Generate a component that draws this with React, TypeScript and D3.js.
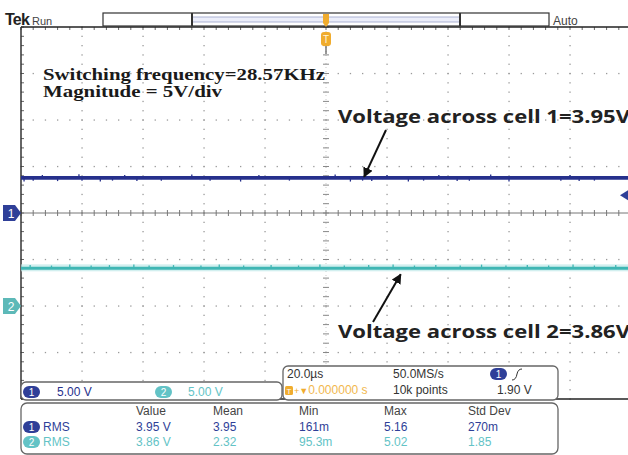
import React from 'react'
import * as d3 from 'd3'

// scope settings
const voltsPerDiv = [5, 5]
const groundDiv = [0, -2] // ground marker position, divisions from centre
const traceLevels = [3.78, 4.05] // volts
const triggerLevel = 1.9

// noise spikes on the traces: [time µs, volts from level]
const ch1Spikes = [
  [-99, -0.4], [-96, -0.3], [-93, 0.3], [-88, -0.35], [-81, 0.4], [-80, -0.3], [-74, -0.4],
  [-70, -0.3], [-66, 0.3], [-62, -0.35], [-54, -0.3], [-44, 0.35], [-38, -0.3], [-28, -0.4],
  [-22, 0.3], [-12, -0.3], [3, 0.35], [8, -0.4], [12, -0.3], [15, -0.35], [20, 0.3], [27, -0.4],
  [32, -0.3], [37, 0.3], [43, -0.35], [47, -0.3], [54, 0.35], [60, -0.4], [77, -0.3], [80, 0.3],
  [83, -0.35], [88, -0.3],
]
const ch2Spikes = [
  [-97, 0.35], [-90, 0.3], [-84, 0.4], [-77, 0.3], [-71, 0.35], [-63, 0.4], [-58, 0.3], [-50, 0.35],
  [-41, 0.3], [-35, 0.4], [-27, 0.3], [-18, 0.35], [-9, 0.3], [-2, 0.4], [6, 0.3], [14, 0.35],
  [22, 0.4], [29, 0.3], [36, 0.35], [44, 0.3], [51, 0.4], [59, 0.3], [66, 0.35], [73, 0.3],
  [81, 0.4], [88, 0.3], [95, 0.35],
]

const chLabels = ['1', '2']
const chScaleText = ['5.00 V', '5.00 V']
const measHeaders = ['Value', 'Mean', 'Min', 'Max', 'Std Dev']
const measType = ['RMS', 'RMS']
const ch1Meas = ['3.95 V', '3.95', '161m', '5.16', '270m']
const ch2Meas = ['3.86 V', '2.32', '95.3m', '5.02', '1.85']
const horizText = ['20.0µs', '50.0MS/s', '1.90 V']
const horizText2 = ['0.000000 s', '10k points']
const noteLines = ['Switching frequency=28.57KHz', 'Magnitude = 5V/div']
const cellLabels = ['Voltage across cell 1=3.95V', 'Voltage across cell 2=3.86V']

const BLUE = '#26308c'
const BLUE_UI = '#2f3f98'
const CYAN = '#3fb6b4'
const CYAN_TXT = '#63c3c6'
const ORANGE = '#f0ac2e'
const UI = 'Liberation Sans, Arial, sans-serif'

export default function App() {
  const W = 628
  const H = 455
  const x = d3.scaleLinear().domain([-100, 100]).range([21, 631])
  const yDiv = d3.scaleLinear().domain([4, -4]).range([27, 399])
  const chY = (c: number, v: number) => yDiv(groundDiv[c] + v / voltsPerDiv[c])

  const majorX = d3.range(-80, 100, 20)
  const majorY = d3.range(-3, 4, 1)
  const minorX = d3.range(-100, 100.01, 4)
  const minorY = d3.range(-4, 4.01, 0.2)

  const dots: JSX.Element[] = []
  majorX.forEach((t) => {
    if (t === 0) return
    minorY.forEach((d, i) => dots.push(<rect key={`vx${t}_${i}`} x={x(t) - 0.6} y={yDiv(d) - 0.6} width={1.3} height={1.3} fill="#9a9a9a" />))
  })
  majorY.forEach((d) => {
    if (d === 0) return
    minorX.forEach((t, i) => dots.push(<rect key={`hy${d}_${i}`} x={x(t) - 0.6} y={yDiv(d) - 0.6} width={1.3} height={1.3} fill="#9a9a9a" />))
  })

  const line = d3.line<number[]>().x((d) => d[0]).y((d) => d[1])
  const trace = (c: number) => line([[x(-100), chY(c, traceLevels[c])], [x(100), chY(c, traceLevels[c])]]) || ''

  const colX = [136, 213, 299, 384, 468]

  const pill = (key: string, px: number, py: number, fill: string, label: string) => (
    <g key={key}>
      <rect x={px} y={py} width={17} height={12} rx={6} fill={fill} />
      <text x={px + 8.5} y={py + 10} textAnchor="middle" fontSize={10} fill="#fff" fontFamily={UI}>{label}</text>
    </g>
  )

  const a1Tip = [x(12.5), chY(0, traceLevels[0]) + 1]
  const a2Tip = [x(24.5), chY(1, traceLevels[1]) + 6]

  return (
    <svg width={W} height={H} style={{ position: 'absolute', left: 0, top: 0, background: '#fff' }}>
      <defs>
        <marker id="ah" viewBox="0 0 10 10" refX={9} refY={5} markerWidth={5} markerHeight={5} orient="auto">
          <path d="M0,0 L10,5 L0,10 z" fill="#111" />
        </marker>
      </defs>
      <rect width={W} height={H} fill="#fff" />

      {/* graticule dots */}
      {dots}
      {/* centre axes with ticks */}
      <line x1={x(-100)} x2={W} y1={yDiv(0)} y2={yDiv(0)} stroke="#777" strokeWidth={1} />
      {minorX.map((t, i) => (
        <line key={`cx${i}`} x1={x(t)} x2={x(t)} y1={yDiv(0) - 3} y2={yDiv(0) + 3} stroke="#777" strokeWidth={1} />
      ))}
      <line x1={x(0)} x2={x(0)} y1={yDiv(4)} y2={yDiv(-4)} stroke="#bbb" strokeWidth={0.8} strokeDasharray="1 3" />
      {minorY.map((d, i) => (
        <line key={`cy${i}`} x1={x(0) - 3} x2={x(0) + 3} y1={yDiv(d)} y2={yDiv(d)} stroke="#888" strokeWidth={1} />
      ))}
      {/* border ticks */}
      {minorX.map((t, i) => (
        <line key={`tx${i}`} x1={x(t)} x2={x(t)} y1={yDiv(4)} y2={yDiv(4) + 3} stroke="#666" strokeWidth={1} />
      ))}
      {minorY.map((d, i) => (
        <line key={`ly${i}`} x1={x(-100)} x2={x(-100) + 3} y1={yDiv(d)} y2={yDiv(d)} stroke="#666" strokeWidth={1} />
      ))}
      <line x1={x(-100)} x2={W} y1={yDiv(4)} y2={yDiv(4)} stroke="#222" strokeWidth={1.6} />
      <line x1={x(-100)} x2={x(-100)} y1={yDiv(4)} y2={yDiv(-4)} stroke="#333" strokeWidth={1.5} />
      <line x1={x(-100)} x2={W} y1={yDiv(-4)} y2={yDiv(-4)} stroke="#222" strokeWidth={1.5} />

      {/* channel 2 trace */}
      <rect x={x(-100)} y={chY(1, traceLevels[1]) - 4} width={W - x(-100)} height={7} fill="#bfe8e8" opacity={0.7} />
      <path d={trace(1)} stroke={CYAN} strokeWidth={3} fill="none" />
      {ch2Spikes.map(([t, dv], i) => (
        <line key={`s2${i}`} x1={x(t)} x2={x(t)} y1={chY(1, traceLevels[1])} y2={chY(1, traceLevels[1] + dv)} stroke={CYAN} strokeWidth={1.3} />
      ))}
      {/* channel 1 trace */}
      <path d={trace(0)} stroke={BLUE} strokeWidth={3.6} fill="none" />
      {ch1Spikes.map(([t, dv], i) => (
        <line key={`s1${i}`} x1={x(t)} x2={x(t)} y1={chY(0, traceLevels[0])} y2={chY(0, traceLevels[0] + dv)} stroke={BLUE} strokeWidth={1.3} />
      ))}

      {/* ground markers */}
      {[0, 1].map((c) => {
        const gy = chY(c, 0)
        return (
          <g key={`gm${c}`}>
            <path d={`M3,${gy - 8} L15,${gy - 8} L21,${gy} L15,${gy + 8} L3,${gy + 8} Z`} fill={c === 0 ? BLUE_UI : '#5db9b8'} />
            <text x={11} y={gy + 4.5} textAnchor="middle" fontSize={12} fill="#fff" fontFamily={UI}>{chLabels[c]}</text>
          </g>
        )
      })}
      {/* trigger level marker */}
      <path d={`M${W - 8},${chY(0, triggerLevel)} L${W},${chY(0, triggerLevel) - 5} L${W},${chY(0, triggerLevel) + 5} Z`} fill={BLUE_UI} />

      {/* top status bar */}
      <text x={5} y={25} fontSize={16} fontWeight="bold" fill="#222" fontFamily={UI} letterSpacing={-0.8}>Tek</text>
      <text x={32} y={25} fontSize={11} fill="#444" fontFamily={UI}>Run</text>
      <text x={553} y={25} fontSize={12} fill="#444" fontFamily={UI}>Auto</text>
      <rect x={103} y={13} width={446} height={13} fill="#fff" stroke="#333" strokeWidth={1.2} />
      <rect x={192} y={17} width={268} height={5} fill="#eceefa" stroke="#9aa0c8" strokeWidth={0.8} />
      <line x1={192} x2={192} y1={13} y2={26} stroke="#333" strokeWidth={2} />
      <line x1={460} x2={460} y1={13} y2={26} stroke="#333" strokeWidth={2} />
      <path d={`M${x(0) - 3},14 L${x(0) + 3},14 L${x(0) + 3},23 L${x(0)},27 L${x(0) - 3},23 Z`} fill={ORANGE} />
      <line x1={x(0)} x2={x(0)} y1={46} y2={54} stroke="#555" strokeWidth={1.2} />
      <rect x={x(0) - 5} y={32} width={10} height={14} rx={3} fill={ORANGE} />
      <text x={x(0)} y={43} textAnchor="middle" fontSize={10} fill="#fff6dd" fontFamily={UI}>T</text>

      {/* annotations */}
      <text x={43} y={80} fontSize={16} fontWeight="bold" fill="#1a1a1a" fontFamily="Liberation Serif, Times New Roman, serif" textLength={282} lengthAdjust="spacingAndGlyphs">{noteLines[0]}</text>
      <text x={43} y={97} fontSize={16} fontWeight="bold" fill="#1a1a1a" fontFamily="Liberation Serif, Times New Roman, serif" textLength={179} lengthAdjust="spacingAndGlyphs">{noteLines[1]}</text>
      <text x={338} y={123} fontSize={18} fontWeight="bold" fill="#222" fontFamily="Open Sans, sans-serif" textLength={292} lengthAdjust="spacingAndGlyphs">{cellLabels[0]}</text>
      <text x={338} y={338} fontSize={18} fontWeight="bold" fill="#222" fontFamily="Open Sans, sans-serif" textLength={292} lengthAdjust="spacingAndGlyphs">{cellLabels[1]}</text>
      <line x1={386} y1={130} x2={a1Tip[0]} y2={a1Tip[1] - 2} stroke="#111" strokeWidth={2} markerEnd="url(#ah)" />
      <line x1={373} y1={322} x2={a2Tip[0]} y2={a2Tip[1]} stroke="#111" strokeWidth={2} markerEnd="url(#ah)" />

      {/* channel scale panel */}
      <rect x={21} y={382} width={261} height={18} rx={5} fill="#fff" stroke="#666" strokeWidth={1.3} />
      {pill('p1', 23, 386, BLUE_UI, chLabels[0])}
      <text x={57} y={396} fontSize={12} fill={BLUE} fontFamily={UI}>{chScaleText[0]}</text>
      {pill('p2', 155, 386, CYAN_TXT, chLabels[1])}
      <text x={188} y={396} fontSize={12} fill={CYAN_TXT} fontFamily={UI}>{chScaleText[1]}</text>

      {/* horizontal / trigger panel */}
      <rect x={283} y={366} width={275} height={34} rx={5} fill="#fff" stroke="#666" strokeWidth={1.3} />
      <text x={287} y={378} fontSize={12} fill="#333" fontFamily={UI}>{horizText[0]}</text>
      <text x={393} y={378} fontSize={12} fill="#333" fontFamily={UI}>{horizText[1]}</text>
      {pill('p3', 490, 368, BLUE_UI, chLabels[0])}
      <path d="M512,380 Q516,380 517,374 Q518,369 522,369" stroke="#333" strokeWidth={1} fill="none" />
      <rect x={285} y={386} width={8} height={9} rx={1.5} fill={ORANGE} />
      <text x={289} y={394} textAnchor="middle" fontSize={8} fill="#fff" fontFamily={UI}>T</text>
      <text x={294} y={394} fontSize={12} fill={ORANGE} fontFamily={UI}>
        <tspan fontSize={9}>{'+\u25BC'}</tspan>
        <tspan opacity={0.85}>{horizText2[0]}</tspan>
      </text>
      <text x={393} y={394} fontSize={12} fill="#333" fontFamily={UI}>{horizText2[1]}</text>
      <text x={497} y={394} fontSize={12} fill="#333" fontFamily={UI}>{horizText[2]}</text>

      {/* measurement panel */}
      <rect x={21} y={403} width={537} height={51} rx={6} fill="#fff" stroke="#666" strokeWidth={1.3} />
      {measHeaders.map((h, i) => (
        <text key={`h${i}`} x={colX[i]} y={415} fontSize={12} fill="#444" fontFamily={UI}>{h}</text>
      ))}
      {pill('m1', 23, 421, BLUE_UI, chLabels[0])}
      <text x={43} y={431} fontSize={12} fill={BLUE_UI} fontFamily={UI}>{measType[0]}</text>
      {ch1Meas.map((m, i) => (
        <text key={`r1${i}`} x={colX[i]} y={431} fontSize={12} fill={BLUE_UI} fontFamily={UI}>{m}</text>
      ))}
      {pill('m2', 23, 436, CYAN_TXT, chLabels[1])}
      <text x={43} y={446} fontSize={12} fill={CYAN_TXT} fontFamily={UI}>{measType[1]}</text>
      {ch2Meas.map((m, i) => (
        <text key={`r2${i}`} x={colX[i]} y={446} fontSize={12} fill={CYAN_TXT} fontFamily={UI}>{m}</text>
      ))}
    </svg>
  )
}
